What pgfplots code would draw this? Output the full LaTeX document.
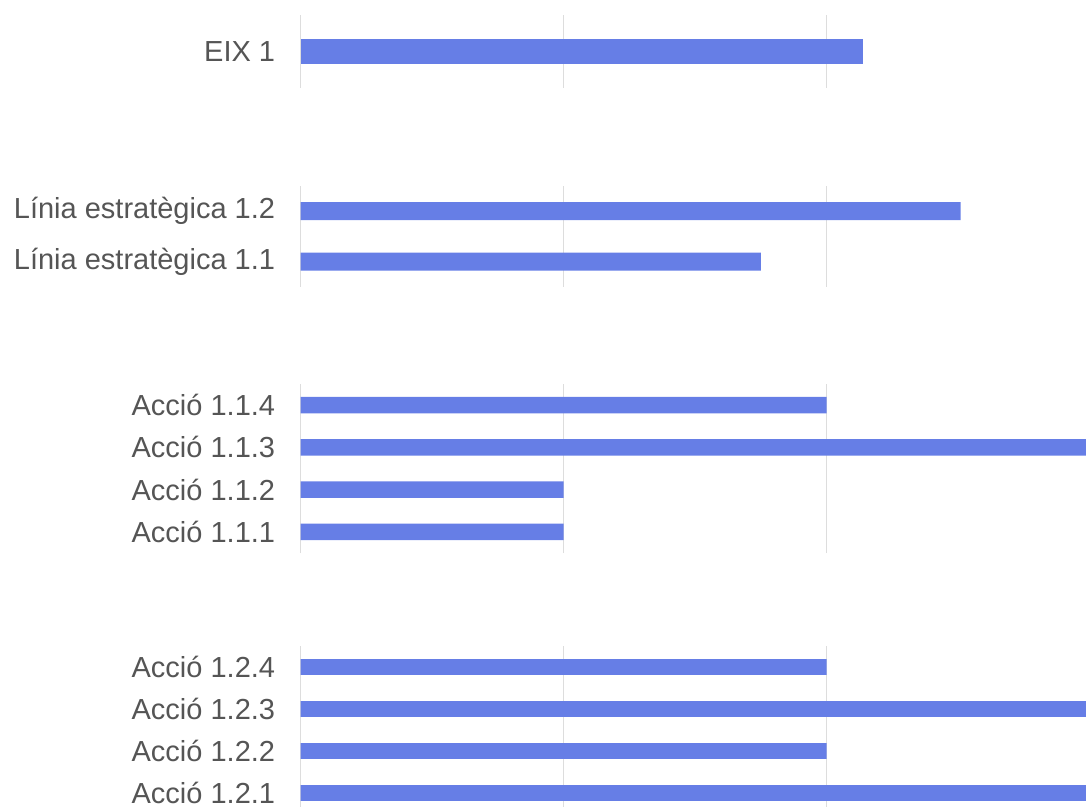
\documentclass[border=0pt]{standalone}
\usepackage{fontspec}
\setmainfont{Liberation Sans}
\usepackage{pgfplots}
\pgfplotsset{compat=1.18}
\definecolor{barblue}{RGB}{102,126,230}
\definecolor{labgray}{RGB}{85,85,85}
\definecolor{gridgray}{RGB}{221,221,221}
\pgfplotsset{
  panel/.style={
    scale only axis,
    width=394.5pt,
    xmin=0, xmax=3,
    xtick={0,1,2,3},
    xticklabels={},
    xmajorgrids,
    grid style={draw=gridgray, line width=0.9pt},
    axis line style={draw=none},
    major tick length=0pt,
    ytick style={draw=none},
    xtick style={draw=none},
    yticklabel style={inner sep=0pt, xshift=-12.5pt, font=\fontsize{14.5}{16}\selectfont, text=labgray},
    xbar, bar shift=0pt,
    clip=false,
  },
  barst/.style={fill=barblue, draw=none},
}
\begin{document}
\begin{tikzpicture}
\useasboundingbox (0,0) rectangle (543pt,-403.5pt);
\clip (0,0) rectangle (543pt,-403.5pt);
% Panel 1: px 15..88
\begin{axis}[panel, at={(150.25pt,-44pt)}, height=36.5pt,
  ymin=-0.5, ymax=0.5, ytick={0}, yticklabels={EIX 1}, bar width=12.5pt]
\addplot[barst] coordinates {(2.14,0)};
\end{axis}
% Panel 2: px 186..287
\begin{axis}[panel, at={(150.25pt,-143.5pt)}, height=50.5pt,
  ymin=-0.5, ymax=1.5, ytick={0,1},
  yticklabels={L\'inia estrat\`egica 1.1, L\'inia estrat\`egica 1.2}, bar width=9pt]
\addplot[barst] coordinates {(1.75,0) (2.51,1)};
\end{axis}
% Panel 3: px 384..553
\begin{axis}[panel, at={(150.25pt,-276.5pt)}, height=84.5pt,
  ymin=-0.5, ymax=3.5, ytick={0,1,2,3},
  yticklabels={Acci\'o 1.1.1, Acci\'o 1.1.2, Acci\'o 1.1.3, Acci\'o 1.1.4}, bar width=8.3pt]
\addplot[barst] coordinates {(1,0) (1,1) (3,2) (2,3)};
\end{axis}
% Panel 4: px 646..814
\begin{axis}[panel, at={(150.25pt,-407pt)}, height=84pt,
  ymin=-0.5, ymax=3.5, ytick={0,1,2,3},
  yticklabels={Acci\'o 1.2.1, Acci\'o 1.2.2, Acci\'o 1.2.3, Acci\'o 1.2.4}, bar width=7.8pt]
\addplot[barst] coordinates {(3,0) (2,1) (3,2) (2,3)};
\end{axis}
\end{tikzpicture}
\end{document}
